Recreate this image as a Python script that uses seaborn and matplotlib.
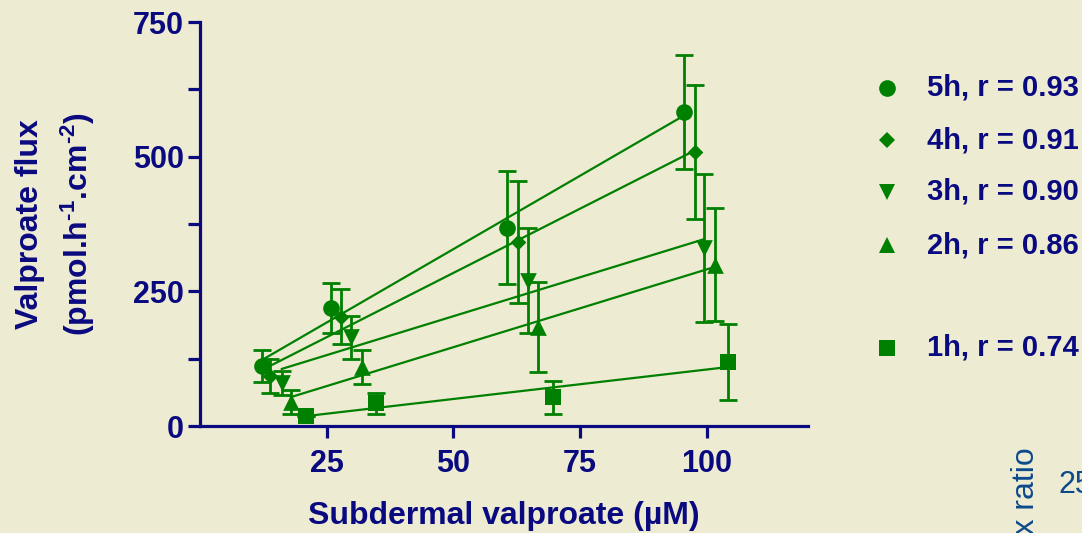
import matplotlib
matplotlib.use("Agg")
import matplotlib.pyplot as plt
import seaborn as sns
from matplotlib.lines import Line2D

# ---------------- data ----------------
x5 = [12.2, 25.8, 60.6, 95.5]
y5 = [111, 219, 368, 583]
e5 = [30, 46, 105, 106]

x4 = [13.9, 27.9, 62.8, 97.6]
y4 = [93, 203, 342, 509]
e4 = [31, 51, 113, 124]

x3 = [16.1, 29.9, 64.8, 99.5]
y3 = [80, 165, 270, 330]
e3 = [23, 40, 98, 137]

x2 = [17.9, 32.0, 66.8, 101.6]
y2 = [45, 110, 184, 299]
e2 = [22, 32, 83, 105]

x1 = [20.9, 34.8, 69.6, 104.3]
y1 = [19, 42, 53, 119]
e1 = [0, 20, 30, 71]

series_labels = ["5h, r = 0.93", "4h, r = 0.91", "3h, r = 0.90", "2h, r = 0.86", "1h, r = 0.74"]
series_markers = ["o", "D", "v", "^", "s"]
x_ticks = [25, 50, 75, 100]
y_ticks = [0, 250, 500, 750]
y_minor = [125, 375, 625]

BG = "#EEEBD3"
GREEN = "#008000"
NAVY = "#0A0A80"
BLUE2 = "#0C4A8C"

sns.set_theme(style="ticks")
plt.rcParams["font.family"] = ["Liberation Sans", "DejaVu Sans"]
plt.rcParams["font.weight"] = "bold"
plt.rcParams["mathtext.fontset"] = "custom"
plt.rcParams["mathtext.rm"] = "Liberation Sans:bold"
plt.rcParams["mathtext.bf"] = "Liberation Sans:bold"
plt.rcParams["mathtext.it"] = "Liberation Sans:bold"
plt.rcParams["mathtext.default"] = "bf"

fig = plt.figure(figsize=(10.82, 5.33), dpi=100, facecolor=BG)
W, H = 1082, 533
ax = fig.add_axes([200 / W, 1 - 426 / H, 608 / W, 404 / H])
ax.set_facecolor(BG)

xs = [x5, x4, x3, x2, x1]
ys = [y5, y4, y3, y2, y1]
es = [e5, e4, e3, e2, e1]
sizes = [144, 64, 144, 144, 144]

for x, y, e, m, s in zip(xs, ys, es, series_markers, sizes):
    sns.regplot(x=x, y=y, ax=ax, ci=None, scatter=False, color=GREEN,
                line_kws=dict(linewidth=1.6, zorder=2))
    ax.errorbar(x, y, yerr=e, fmt="none", ecolor=GREEN, elinewidth=2.0,
                capsize=6.5, capthick=2.0, zorder=3, clip_on=False)
    sns.scatterplot(x=x, y=y, ax=ax, marker=m, s=s, color=GREEN,
                    edgecolor=GREEN, linewidth=0, zorder=4, clip_on=False)

ax.set_xlim(0, 120)
ax.set_ylim(0, 750)
ax.set_xticks(x_ticks)
ax.set_yticks(y_ticks)
ax.set_yticks(y_minor, minor=True)

for side in ["top", "right"]:
    ax.spines[side].set_visible(False)
for side in ["left", "bottom"]:
    ax.spines[side].set_color(NAVY)
    ax.spines[side].set_linewidth(2.3)

ax.tick_params(axis="both", which="both", direction="out", length=8.5, width=2.3,
               color=NAVY, labelcolor=NAVY, labelsize=22)
ax.tick_params(axis="y", which="both", pad=3)
ax.tick_params(axis="x", which="both", pad=8)
for lab in ax.get_xticklabels() + ax.get_yticklabels():
    lab.set_fontweight("bold")

ax.set_xlabel("Subdermal valproate (µM)", fontsize=23, fontweight="bold",
              color=NAVY, labelpad=16)
ax.set_ylabel("Valproate flux\n(pmol.h$^{\\text{-}1}$.cm$^{\\text{-}2}$)", fontsize=23,
              fontweight="bold", color=NAVY, labelpad=26, linespacing=1.45)

# legend (manual, right side)
rows_y = [88, 140, 192, 245, 348]
for lab, m, s, ry in zip(series_labels, series_markers, sizes, rows_y):
    ms = 12 if m != "D" else 8.2
    fig.add_artist(Line2D([887 / W], [1 - ry / H], marker=m, markersize=ms,
                          color=GREEN, markeredgewidth=0, linestyle="none",
                          transform=fig.transFigure))
    fig.text(927 / W, 1 - ry / H, lab, fontsize=21, fontweight="bold",
             color=NAVY, ha="left", va="center")

# fragments of a neighbouring chart at the bottom-right edge
fig.text(1026 / W, 1 - 447 / H, "Flux ratio", rotation=90, fontsize=23,
         fontweight="normal", color=BLUE2, ha="center", va="top")
fig.text(1059 / W, 1 - 485 / H, "250", fontsize=22, fontweight="normal",
         color=BLUE2, ha="left", va="center")

fig.savefig("out.png", dpi=100, facecolor=BG)
